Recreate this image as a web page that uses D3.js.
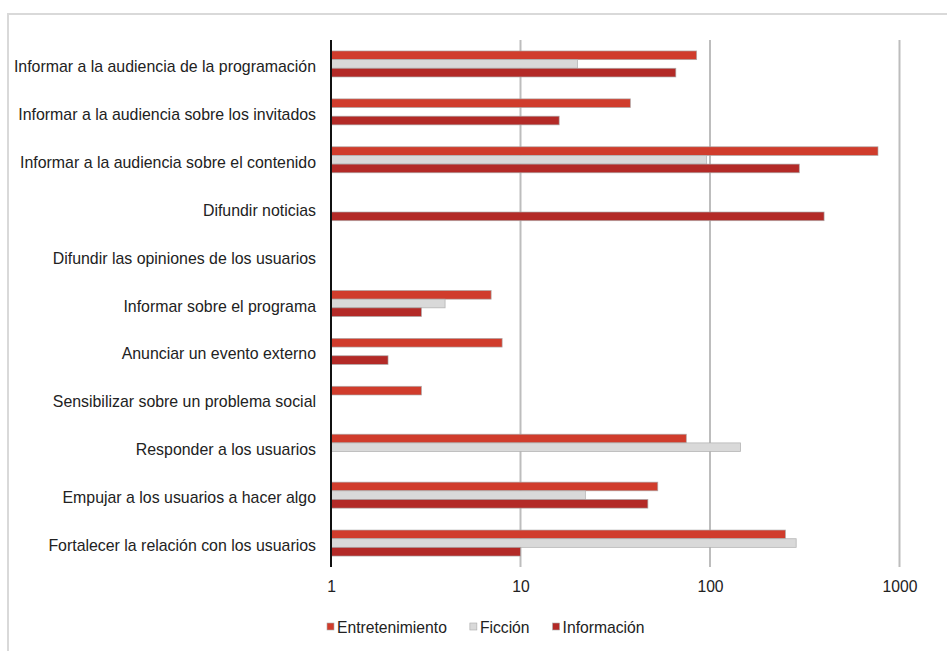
<!DOCTYPE html>
<html>
<head>
<meta charset="utf-8">
<script src="https://cdn.jsdelivr.net/npm/d3@7"></script>
<style>
  body { margin: 0; background: #fff; }
  #root { width: 947px; height: 651px; }
  text { font-family: "Liberation Sans", Arial, sans-serif; fill: #222; }
</style>
</head>
<body>
<div id="root"></div>
<script>
// categories, top to bottom
var categories = [
    "Informar a la audiencia de la programación",
    "Informar a la audiencia sobre los invitados",
    "Informar a la audiencia sobre el contenido",
    "Difundir noticias",
    "Difundir las opiniones de los usuarios",
    "Informar sobre el programa",
    "Anunciar un evento externo",
    "Sensibilizar sobre un problema social",
    "Responder a los usuarios",
    "Empujar a los usuarios a hacer algo",
    "Fortalecer la relación con los usuarios"
];

var series = ["Entretenimiento", "Ficción", "Información"];

// 0 = no bar
var entretenimiento = [85, 38, 770, 0, 0, 7, 8, 3, 75, 53, 250];
var ficcion         = [20, 0, 96, 0, 0, 4, 0, 0, 145, 22, 285];
var informacion     = [66, 16, 296, 400, 0, 3, 2, 0, 0, 47, 10];

var tickValues = [1, 10, 100, 1000];

var colors = {
    "Entretenimiento": "#d03c2c",
    "Ficción": "#d9d9d9",
    "Información": "#b32a27"
};

function draw(){
    var width = 947, height = 651;
    var values = [entretenimiento, ficcion, informacion];

    var svg = d3.select("#root").append("svg")
        .attr("width", width)
        .attr("height", height);

    // frame (only top and left edges show)
    svg.append("path")
        .attr("d", "M8,651 V14 H947")
        .attr("fill", "none")
        .attr("stroke", "#d9d9d9")
        .attr("stroke-width", 2);

    var x = d3.scaleLog().domain([1, 1000]).range([331, 899.5]);
    var y = d3.scaleBand().domain(categories).range([40, 567]);
    var groupH = 26;
    var y1 = d3.scaleBand().domain(series).range([0, groupH]);

    // gridlines
    svg.selectAll(".grid")
        .data(tickValues.slice(1))
        .enter().append("line")
        .attr("class", "grid")
        .attr("x1", function(d){ return x(d); })
        .attr("x2", function(d){ return x(d); })
        .attr("y1", 40).attr("y2", 567)
        .attr("stroke", "#bdbdbd")
        .attr("stroke-width", 2);

    // bars
    var rows = [];
    categories.forEach(function(c, i){
        series.forEach(function(s, j){
            if (values[j][i] > 0) rows.push({cat: c, ser: s, v: values[j][i]});
        });
    });

    svg.selectAll(".bar")
        .data(rows)
        .enter().append("rect")
        .attr("class", "bar")
        .attr("x", x(1))
        .attr("y", function(d){ return y(d.cat) + (y.bandwidth() - groupH) / 2 + y1(d.ser); })
        .attr("width", function(d){ return x(d.v) - x(1); })
        .attr("height", y1.bandwidth())
        .attr("fill", function(d){ return colors[d.ser]; })
        .attr("stroke", "#a9a9a9")
        .attr("stroke-opacity", 0.8)
        .attr("stroke-width", 0.8);

    // category axis line
    svg.append("line")
        .attr("x1", x(1)).attr("x2", x(1))
        .attr("y1", 40).attr("y2", 567)
        .attr("stroke", "#111")
        .attr("stroke-width", 2);

    // category labels
    svg.selectAll(".cat")
        .data(categories)
        .enter().append("text")
        .attr("class", "cat")
        .attr("x", 316)
        .attr("y", function(d){ return y(d) + y.bandwidth() / 2 + 2.5; })
        .attr("dy", "0.35em")
        .attr("text-anchor", "end")
        .style("font-size", "15.9px")
        .text(function(d){ return d; });

    // value axis
    var axis = d3.axisBottom(x).tickValues(tickValues).tickFormat(d3.format("d")).tickSize(0).tickPadding(0);
    var ax = svg.append("g")
        .attr("transform", "translate(0,580)")
        .call(axis);
    ax.select(".domain").remove();
    ax.selectAll("text")
        .attr("dy", "0.75em")
        .style("font-size", "15.7px")
        .style("font-family", "Liberation Sans, Arial, sans-serif")
        .attr("fill", "#222");

    // legend
    var legend = svg.append("g").attr("transform", "translate(327,627)");
    var lx = 0;
    series.forEach(function(s){
        var item = legend.append("g").attr("transform", "translate(" + lx + ",0)");
        item.append("rect")
            .attr("x", 0).attr("y", -4)
            .attr("width", 7).attr("height", 7)
            .attr("fill", colors[s])
            .attr("stroke", "#aaa")
            .attr("stroke-width", 0.6);
        var t = item.append("text")
            .attr("x", 10).attr("y", 0)
            .attr("dy", "0.35em")
            .style("font-size", "15.7px")
            .text(s);
        lx += 10 + t.node().getComputedTextLength() + 23;
    });
}

draw();
</script>
</body>
</html>
